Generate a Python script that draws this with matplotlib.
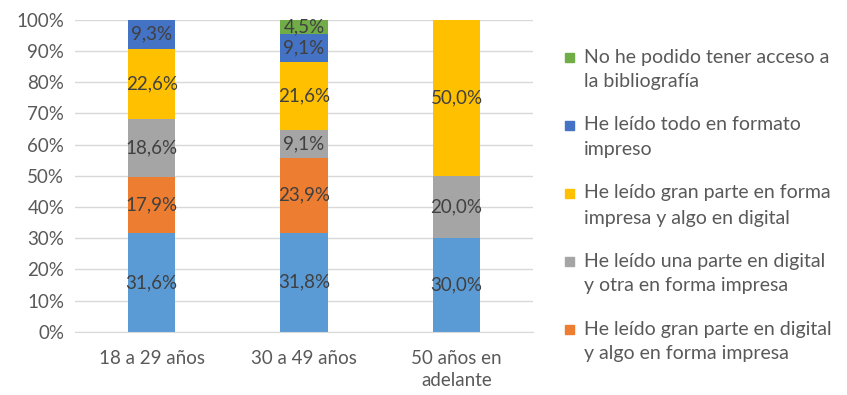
import matplotlib.pyplot as plt
from matplotlib.patches import Rectangle

plt.rcParams['font.family'] = ['Lato', 'DejaVu Sans']

# =========================
# DATA
# =========================

grupos = ["18 a 29 años", "30 a 49 años", "50 años en\nadelante"]

todo_digital = [31.6, 31.8, 30.0]
gran_parte_digital = [17.9, 23.9, 0.0]
parte_y_parte = [18.6, 9.1, 20.0]
gran_parte_impresa = [22.6, 21.6, 50.0]
todo_impreso = [9.3, 9.1, 0.0]
sin_acceso = [0.0, 4.5, 0.0]

series = [
    (todo_digital, "#5B9BD5", None),
    (gran_parte_digital, "#ED7D31", ["He leído gran parte en digital", "y algo en forma impresa"]),
    (parte_y_parte, "#A5A5A5", ["He leído una parte en digital", "y otra en forma impresa"]),
    (gran_parte_impresa, "#FFC000", ["He leído gran parte en forma", "impresa y algo en digital"]),
    (todo_impreso, "#4472C4", ["He leído todo en formato", "impreso"]),
    (sin_acceso, "#70AD47", ["No he podido tener acceso a", "la bibliografía"]),
]

yticks = [0, 10, 20, 30, 40, 50, 60, 70, 80, 90, 100]

FS = 13.5
GRIS = "#595959"

# =========================
# PLOT
# =========================

W, H = 847, 395
fig = plt.figure(figsize=(W / 100, H / 100), dpi=100)
ax = fig.add_axes([0.089, 0.16, 0.540, 0.79])

x = range(len(grupos))
bottom = [0.0] * len(grupos)

for valores, color, _ in series:
    ax.bar(x, valores, bottom=bottom, width=0.31, color=color, zorder=2)
    for i, v in enumerate(valores):
        if v > 0:
            ax.text(i, bottom[i] + v / 2, f"{v:.1f}%".replace(".", ","),
                    ha="center", va="center", fontsize=FS, color="#404040", zorder=3)
    bottom = [b + v for b, v in zip(bottom, valores)]

ax.set_xlim(-0.5, 2.5)
ax.set_ylim(0, 100)
ax.set_yticks(yticks)
ax.set_yticklabels([f"{t}%" for t in yticks])
ax.set_xticks(list(x))
ax.set_xticklabels(grupos, linespacing=1.35)
ax.tick_params(axis="both", length=0, labelsize=FS, colors=GRIS)
ax.tick_params(axis="x", pad=13)
ax.tick_params(axis="y", pad=8)
ax.yaxis.grid(True, color="#D9D9D9", linewidth=1, zorder=0)
for spine in ["top", "right", "left"]:
    ax.spines[spine].set_visible(False)
ax.spines["bottom"].set_color("#D9D9D9")

# Legend drawn by hand: marker on the first line of each label (top series first)
entradas = [(c, l) for _, c, l in reversed(series) if l]
for k, (color, lineas) in enumerate(entradas):
    y1 = 57 + 68 * k
    fig.patches.append(Rectangle((565 / W, 1 - (y1 + 4.5) / H), 9 / W, 9 / H,
                                 transform=fig.transFigure, color=color))
    for j, linea in enumerate(lineas):
        fig.text(584 / W, 1 - (y1 + 25 * j) / H, linea, ha="left", va="center",
                 fontsize=14, color=GRIS)

plt.savefig("out.png", dpi=100)
